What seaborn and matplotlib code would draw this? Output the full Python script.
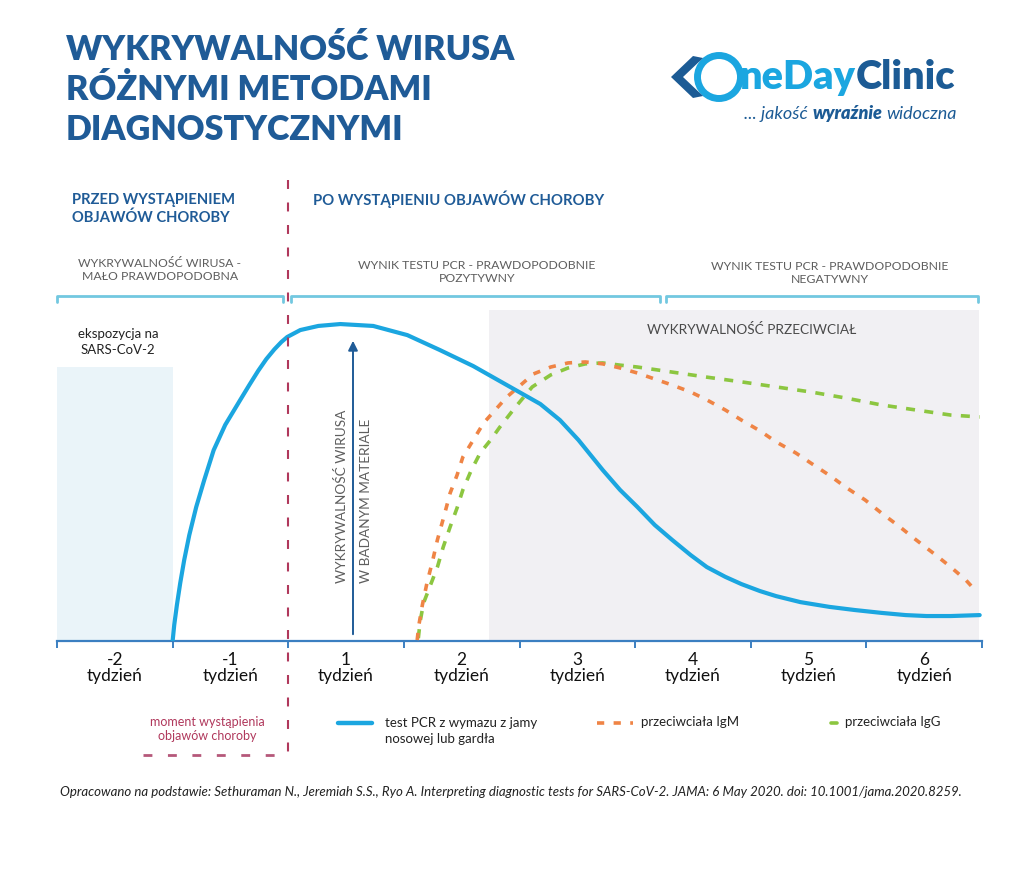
import numpy as np
import pandas as pd
import matplotlib.pyplot as plt
import matplotlib.patches as mpatches
import seaborn as sns

# --- dane (tygodnie względem pojawienia się objawów, wykrywalność w j. umownych) ---
tyg_labels = ["-2", "-1", "1", "2", "3", "4", "5", "6"]

pcr_x = [-1.0, -0.986, -0.963, -0.934, -0.900, -0.856, -0.796, -0.727, -0.645, -0.545, -0.415,
         -0.337, -0.260, -0.190, -0.120, -0.060, -0.009, 0.104, 0.26, 0.45, 0.735, 1.03, 1.31,
         1.60, 1.89, 2.18, 2.35, 2.51, 2.72, 2.87, 3.02, 3.17, 3.32, 3.48, 3.62, 3.78, 3.92,
         4.08, 4.22, 4.43, 4.68, 4.90, 5.13, 5.34, 5.52, 5.73, 5.98]
pcr_y = [0.0, 5.1, 11.4, 18.4, 25.6, 33.5, 42.4, 50.9, 60.4, 68.4, 76.3,
         81.0, 85.5, 89.2, 92.3, 94.6, 96.2, 98.4, 99.7, 100.3, 99.7, 96.8, 92.1,
         87.0, 81.0, 75.0, 69.9, 63.6, 54.1, 47.8, 42.4, 36.7, 32.0, 27.2, 23.4, 20.3, 18.0,
         15.8, 14.2, 12.3, 10.8, 9.8, 8.9, 8.2, 7.9, 7.9, 8.2]

igm_x = [1.115, 1.13, 1.16, 1.20, 1.25, 1.29, 1.35, 1.40, 1.46, 1.51, 1.60, 1.69, 1.79, 1.89,
         2.01, 2.12, 2.27, 2.42, 2.57, 2.72, 2.87, 3.02, 3.17, 3.32, 3.48, 3.62, 3.78, 3.92,
         4.08, 4.22, 4.39, 4.52, 4.69, 4.82, 4.99, 5.13, 5.29, 5.43, 5.60, 5.73, 5.86, 5.94]
igm_y = [0.3, 5.1, 11.4, 18.4, 25.6, 32.0, 39.9, 46.8, 52.5, 58.2, 63.6, 69.0, 73.1, 77.2,
         81.0, 84.5, 86.7, 88.0, 88.3, 87.7, 86.4, 84.8, 82.9, 81.0, 78.8, 76.3, 73.1, 69.9,
         66.5, 63.0, 59.5, 56.3, 52.2, 48.7, 44.6, 40.5, 36.1, 32.0, 27.2, 23.4, 19.3, 16.1]

igg_x = [1.125, 1.14, 1.17, 1.23, 1.29, 1.34, 1.40, 1.46, 1.51, 1.58, 1.66, 1.75, 1.83, 1.96,
         2.11, 2.27, 2.42, 2.57, 2.72, 2.87, 3.02, 3.32, 3.62, 3.92, 4.22, 4.52, 4.82, 5.13,
         5.43, 5.73, 5.98]
igg_y = [0.9, 6.0, 12.0, 17.7, 23.4, 29.7, 36.1, 42.1, 47.8, 53.8, 59.5, 63.6, 67.7, 73.8,
         80.4, 84.2, 86.4, 87.7, 88.0, 87.3, 86.7, 85.1, 83.5, 82.0, 80.4, 78.8, 76.9, 74.7,
         73.1, 71.5, 70.9]

BLUE = "#1ba6e0"
ORANGE = "#ef8445"
GREEN = "#8cc640"
NAVY = "#1f5b97"
LOGO_NAVY = "#1c5b95"
CRIMSON = "#b0385c"
BRACKET = "#72c8e0"
GRAYTXT = "#5e5e5e"

sns.set_theme(style="white")
plt.rcParams["font.family"] = ["Lato", "DejaVu Sans"]

W, H = 1024, 891
fig = plt.figure(figsize=(W / 100, H / 100), dpi=100)
fig.patch.set_facecolor("white")

def fx(px):
    return px / W

def fy(py):
    return 1 - py / H

# główny obszar wykresu: x od 57 do 982 px, y od 641 (oś) do 300 px
ax = fig.add_axes([fx(57), fy(641), fx(982) - fx(57), fy(300) - fy(641)])
ax.set_xlim(-2, 6)
ax.set_ylim(0, 341 / 3.16)
ax.set_facecolor("white")

# tła
ax.add_patch(mpatches.Rectangle((-2, 0), 1, 86.7, color="#eaf4f9", lw=0, zorder=0))
ax.add_patch(mpatches.Rectangle((1.74, 0), 4.23, 104.7, color="#f1f0f3", lw=0, zorder=0))

df_pcr = pd.DataFrame({"tydzien": pcr_x, "wartosc": pcr_y})
df_igm = pd.DataFrame({"tydzien": igm_x, "wartosc": igm_y})
df_igg = pd.DataFrame({"tydzien": igg_x, "wartosc": igg_y})

sns.lineplot(data=df_igg, x="tydzien", y="wartosc", ax=ax, color=GREEN, lw=2.6,
             linestyle=(0, (2.5, 2.6)), estimator=None, sort=False, zorder=3)
sns.lineplot(data=df_igm, x="tydzien", y="wartosc", ax=ax, color=ORANGE, lw=2.6,
             linestyle=(0, (2.0, 2.6)), estimator=None, sort=False, zorder=3)
sns.lineplot(data=df_pcr, x="tydzien", y="wartosc", ax=ax, color=BLUE, lw=3.0,
             estimator=None, sort=False, zorder=4, solid_joinstyle="round")

for s in ["top", "left", "right"]:
    ax.spines[s].set_visible(False)
ax.spines["bottom"].set_color("#3b7fc1")
ax.spines["bottom"].set_linewidth(1.6)
ax.set_xlabel("")
ax.set_ylabel("")
ax.set_yticks([])
ax.set_xticks(range(-2, 7))
ax.set_xticklabels([])
ax.set_xticks(np.arange(-1.5, 6, 1), minor=True)
ax.set_xticklabels([f"{t}\ntydzień" for t in tyg_labels], minor=True, fontsize=12.5,
                   linespacing=1.0, color="#111111")
ax.tick_params(axis="x", which="major", length=5, width=1.4, color="#3b7fc1", direction="out",
               bottom=True)
ax.tick_params(axis="x", which="minor", length=0, pad=8, bottom=True)

# warstwa opisów w pikselach
ov = fig.add_axes([0, 0, 1, 1], zorder=5)
ov.set_xlim(0, W)
ov.set_ylim(H, 0)
ov.axis("off")
ov.patch.set_alpha(0)

# tytuł
for i, line in enumerate(["WYKRYWALNOŚĆ WIRUSA", "RÓŻNYMI METODAMI", "DIAGNOSTYCZNYMI"]):
    ov.text(66, 50 + i * 40, line, fontsize=24.6, fontweight="heavy", color=NAVY,
            ha="left", va="center")

# logo
ov.add_patch(mpatches.Ellipse((719, 77), 43, 43, fill=False, ec=BLUE, lw=5))
ov.add_patch(mpatches.Polygon([(671, 77), (693, 56), (703, 58), (683, 77), (703, 96), (693, 98)],
                              closed=True, color=LOGO_NAVY, lw=0))
t_ne = ov.text(740, 89, "neDay", fontsize=28.5, fontweight="heavy", color=BLUE,
               ha="left", va="baseline")
t_w = ov.text(847, 114, "wyraźnie", fontsize=13, style="italic", fontweight="heavy",
              color=LOGO_NAVY, ha="center", va="center")
fig.canvas.draw()
rend = fig.canvas.get_renderer()
bb_ne = t_ne.get_window_extent(rend)
bb_w = t_w.get_window_extent(rend)
ov.text(bb_ne.x1, 89, "Clinic", fontsize=28.5, fontweight="heavy", color=LOGO_NAVY,
        ha="left", va="baseline")
ov.text(bb_w.x0 - 4, 114, "... jakość", fontsize=13, style="italic", color=LOGO_NAVY,
        ha="right", va="center")
ov.text(bb_w.x1 + 4, 114, "widoczna", fontsize=13, style="italic", color=LOGO_NAVY,
        ha="left", va="center")

# nagłówki sekcji
ov.text(72, 209, "PRZED WYSTĄPIENIEM\nOBJAWÓW CHOROBY", fontsize=10.6, fontweight="bold",
        color=NAVY, ha="left", va="center", linespacing=1.25)
ov.text(313, 199, "PO WYSTĄPIENIU OBJAWÓW CHOROBY", fontsize=10.7, fontweight="bold",
        color=NAVY, ha="left", va="center")

ov.text(160, 270, "WYKRYWALNOŚĆ WIRUSA -\nMAŁO PRAWDOPODOBNA", fontsize=8.8,
        color=GRAYTXT, ha="center", va="center", linespacing=1.3)
ov.text(477, 272, "WYNIK TESTU PCR - PRAWDOPODOBNIE\nPOZYTYWNY", fontsize=8.8,
        color=GRAYTXT, ha="center", va="center", linespacing=1.3)
ov.text(830, 273, "WYNIK TESTU PCR - PRAWDOPODOBNIE\nNEGATYWNY", fontsize=8.8,
        color=GRAYTXT, ha="center", va="center", linespacing=1.3)

# klamry
for x0, x1 in [(57, 283), (291, 660), (666, 978)]:
    ov.plot([x0, x0, x1, x1], [302, 296, 296, 302], color=BRACKET, lw=2, solid_joinstyle="round")

ov.text(752, 330, "WYKRYWALNOŚĆ PRZECIWCIAŁ", fontsize=9.8,
        color="#4a4a4a", ha="center", va="center")
ov.text(118, 342, "ekspozycja na\nSARS-CoV-2", fontsize=9.5, color="#222222",
        ha="center", va="center", linespacing=1.3)

# linia momentu wystąpienia objawów
ov.plot([288, 288], [180, 752], color=CRIMSON, lw=1.5, linestyle=(0, (4.3, 6.5)))

# strzałka i opis osi
ov.annotate("", xy=(353, 338), xytext=(353, 637),
            arrowprops=dict(arrowstyle="-|>", color=NAVY, lw=1.4, mutation_scale=14))
ov.text(342, 583, "WYKRYWALNOŚĆ WIRUSA", rotation=90, fontsize=9.8,
        color=GRAYTXT, ha="center", va="bottom")
ov.text(366, 583, "W BADANYM MATERIALE", rotation=90, fontsize=9.8,
        color=GRAYTXT, ha="center", va="bottom")

# legenda
ov.text(207, 729, "moment wystąpienia\nobjawów choroby", fontsize=9, color=CRIMSON,
        ha="center", va="center", linespacing=1.3)
ov.plot([143, 278], [755, 755], color="#b5587a", lw=2, linestyle=(0, (3.2, 5.6)))

ov.plot([338, 372], [723, 723], color=BLUE, lw=3.2)
ov.text(385, 731, "test PCR z wymazu z jamy\nnosowej lub gardła", fontsize=9.5, color="#222222",
        ha="left", va="center", linespacing=1.35)
ov.plot([597, 633], [723, 723], color=ORANGE, lw=2.6, linestyle=(0, (2.0, 2.6)))
ov.text(641, 722, "przeciwciała IgM", fontsize=9.5, color="#222222", ha="left", va="center")
ov.plot([831, 837], [723, 723], color=GREEN, lw=2.6)
ov.text(845, 722, "przeciwciała IgG", fontsize=9.5, color="#222222", ha="left", va="center")

# źródło
ov.text(511, 792, "Opracowano na podstawie: Sethuraman N., Jeremiah S.S., Ryo A. Interpreting diagnostic "
        "tests for SARS-CoV-2. JAMA: 6 May 2020. doi: 10.1001/jama.2020.8259.",
        fontsize=9.5, style="italic", color="#222222", ha="center", va="center")

fig.savefig("out.png", dpi=100)
